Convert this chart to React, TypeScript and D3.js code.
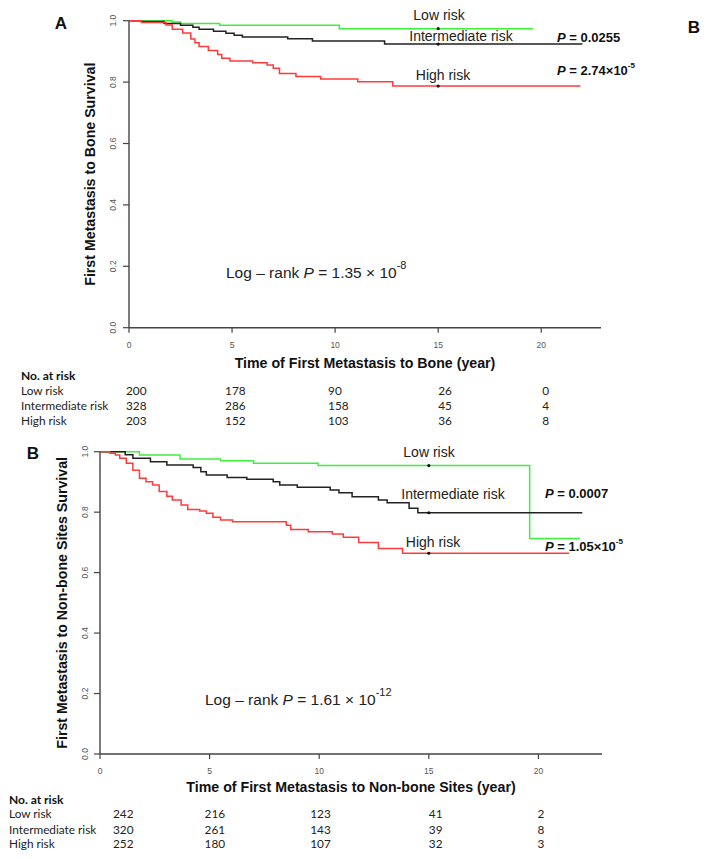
import React from 'react';
import * as d3 from 'd3';

// ---------- data ----------
const timeTicks = [0, 5, 10, 15, 20];
const survTicks = [0, 0.2, 0.4, 0.6, 0.8, 1.0];
const riskGroups = ['Low risk', 'Intermediate risk', 'High risk'];
const censorTime = 15;

// Panel A: first metastasis to bone  [time (years), survival]
const boneLow: [number, number][] = [
  [0, 1], [2.1, 0.996], [2.5, 0.991], [4.4, 0.985], [10.2, 0.974], [19.6, 0.974],
];
const boneInt: [number, number][] = [
  [0, 1], [0.6, 0.997], [1.7, 0.991], [2.5, 0.985], [3.1, 0.979], [3.4, 0.972], [4.1, 0.966],
  [4.7, 0.959], [5.1, 0.953], [5.5, 0.947], [7.7, 0.941], [8.9, 0.934], [12.4, 0.924], [22.0, 0.924],
];
const boneHigh: [number, number][] = [
  [0, 1], [0.6, 0.994], [1.8, 0.986], [2.1, 0.972], [2.6, 0.96], [3.0, 0.94], [3.2, 0.928],
  [3.4, 0.916], [3.85, 0.903], [4.3, 0.89], [4.5, 0.878], [4.9, 0.869], [6.0, 0.863], [6.7, 0.856],
  [7.0, 0.845], [7.3, 0.828], [8.1, 0.818], [9.3, 0.81], [11.1, 0.801], [12.8, 0.787], [21.9, 0.787],
];
const boneAtRisk = [
  [200, 178, 90, 26, 0],
  [328, 286, 158, 45, 4],
  [203, 152, 103, 36, 8],
];
const bonePValues = ['0.0255', '2.74×10'];
const bonePExp = ['', '-5'];
const boneLogRank = { mant: '1.35', exp: '-8' };

// Panel B: first metastasis to non-bone sites
const nbLow: [number, number][] = [
  [0, 1], [1.8, 0.989], [3.65, 0.976], [5.5, 0.97], [7.0, 0.962], [9.95, 0.954], [19.6, 0.713], [21.9, 0.713],
];
const nbInt: [number, number][] = [
  [0, 1], [1.15, 0.99], [1.5, 0.978], [2.3, 0.967], [3.05, 0.956], [4.25, 0.948], [4.6, 0.934],
  [4.85, 0.923], [5.8, 0.915], [6.7, 0.909], [7.9, 0.901], [8.2, 0.89], [9.0, 0.882], [10.5, 0.873],
  [10.9, 0.864], [11.5, 0.851], [12.7, 0.84], [13.1, 0.831], [14.1, 0.813], [14.5, 0.798], [22.0, 0.798],
];
const nbHigh: [number, number][] = [
  [0, 1], [0.45, 0.995], [0.7, 0.989], [0.9, 0.978], [1.2, 0.962], [1.5, 0.939], [1.8, 0.912],
  [2.1, 0.901], [2.4, 0.89], [2.7, 0.868], [3.05, 0.853], [3.3, 0.84], [3.7, 0.824], [4.0, 0.809],
  [4.55, 0.804], [4.85, 0.796], [5.15, 0.783], [5.5, 0.774], [6.05, 0.768], [8.5, 0.757], [8.7, 0.743],
  [9.5, 0.735], [10.6, 0.728], [11.1, 0.717], [11.8, 0.70], [12.7, 0.68], [13.8, 0.664], [21.4, 0.664],
];
const nbAtRisk = [
  [242, 216, 123, 41, 2],
  [320, 261, 143, 39, 8],
  [252, 180, 107, 32, 3],
];
const nbPValues = ['0.0007', '1.05×10'];
const nbPExp = ['', '-5'];
const nbLogRank = { mant: '1.61', exp: '-12' };

// ---------- styling ----------
const COLORS = ['#3ef03e', '#222222', '#ff3a3a'];
const AXIS = '#444';
const FONT = '"Liberation Sans", Arial, sans-serif';
const TABLE_FONT = 'Lato, "Open Sans", sans-serif';

type PanelProps = {
  letter: string;
  letterPos: [number, number];
  xRange: [number, number];
  yRange: [number, number];
  curves: [number, number][][];
  yTitle: string;
  yTitleX: number;
  yTickX: number;
  xTickY: number;
  xTitle: string;
  xTitleY: number;
  groupLabelPos: [number, number][];
  pValues: string[];
  pExp: string[];
  pPos: [number, number][];
  logRank: { mant: string; exp: string };
  logRankPos: [number, number];
  atRisk: number[][];
  tableLabelX: number;
  tableColOffsets: number[];
  tableRowY: number[];
};

function Panel(p: PanelProps) {
  const x = d3.scaleLinear().domain([0, 22.9]).range(p.xRange);
  const y = d3.scaleLinear().domain([0, 1]).range(p.yRange);
  const line = d3
    .line<[number, number]>()
    .x((d) => x(d[0]))
    .y((d) => y(d[1]))
    .curve(d3.curveStepAfter);
  const survAt = (c: [number, number][], t: number) => {
    let s = 1;
    for (const [tt, ss] of c) if (tt <= t) s = ss;
    return s;
  };
  const x0 = p.xRange[0];
  return (
    <g>
      <text x={p.letterPos[0]} y={p.letterPos[1]} fontFamily={FONT} fontWeight="bold" fontSize={17}
        textAnchor="middle" dominantBaseline="central" fill="#111">{p.letter}</text>
      {/* axes */}
      <line x1={x0} x2={p.xRange[1]} y1={y(0)} y2={y(0)} stroke={AXIS} strokeWidth={1.4} />
      <line x1={x0} x2={x0} y1={y(0)} y2={y(1)} stroke={AXIS} strokeWidth={1.4} />
      {timeTicks.map((t) => (
        <g key={'xt' + t}>
          <line x1={x(t)} x2={x(t)} y1={y(0)} y2={y(0) + 5} stroke={AXIS} strokeWidth={1.2} />
          <text x={x(t)} y={p.xTickY} fontFamily={FONT} fontSize={8.5} fill="#555"
            textAnchor="middle" dominantBaseline="central">{t}</text>
        </g>
      ))}
      {survTicks.map((s) => (
        <g key={'yt' + s}>
          <line x1={x0 - 6} x2={x0} y1={y(s)} y2={y(s)} stroke={AXIS} strokeWidth={1.2} />
          <text transform={`translate(${p.yTickX},${y(s)}) rotate(-90)`} fontFamily={FONT} fontSize={8.5}
            fill="#555" textAnchor="middle" dominantBaseline="central">{s.toFixed(1)}</text>
        </g>
      ))}
      <text transform={`translate(${p.yTitleX},${(y(0) + y(1)) / 2}) rotate(-90)`} fontFamily={FONT}
        fontWeight="bold" fontSize={14.2} fill="#111" textAnchor="middle" dominantBaseline="central">{p.yTitle}</text>
      <text x={(x(0) + x(22.9)) / 2} y={p.xTitleY} fontFamily={FONT} fontWeight="bold" fontSize={14.2}
        fill="#111" textAnchor="middle" dominantBaseline="central">{p.xTitle}</text>
      {/* curves */}
      {p.curves.map((c, i) => (
        <path key={'c' + i} d={line(c) || ''} fill="none" stroke={COLORS[i]} strokeWidth={1.5} />
      ))}
      {p.curves.map((c, i) => (
        <circle key={'cs' + i} cx={x(censorTime)} cy={y(survAt(c, censorTime))} r={1.6} fill="#111" />
      ))}
      {riskGroups.map((g, i) => (
        <text key={'gl' + i} x={p.groupLabelPos[i][0]} y={p.groupLabelPos[i][1]} fontFamily={FONT}
          fontSize={14} fill="#222" textAnchor="middle" dominantBaseline="central">{g}</text>
      ))}
      {p.pValues.map((v, i) => (
        <text key={'pv' + i} x={p.pPos[i][0]} y={p.pPos[i][1]} fontFamily={FONT} fontWeight="bold"
          fontSize={13} fill="#111" dominantBaseline="central">
          <tspan fontStyle="italic">P</tspan>
          <tspan>{' = ' + v}</tspan>
          {p.pExp[i] ? <tspan dy={-5} fontSize={8}>{p.pExp[i]}</tspan> : null}
        </text>
      ))}
      <text x={p.logRankPos[0]} y={p.logRankPos[1]} fontFamily={FONT} fontSize={15.5} fill="#222"
        dominantBaseline="central">
        <tspan>{'Log – rank '}</tspan>
        <tspan fontStyle="italic">P</tspan>
        <tspan>{' = ' + p.logRank.mant + ' × 10'}</tspan>
        <tspan dy={-7} fontSize={11}>{p.logRank.exp}</tspan>
      </text>
      {/* number at risk table */}
      <text x={p.tableLabelX} y={p.tableRowY[0]} fontFamily={TABLE_FONT} fontWeight="bold" fontSize={12}
        fill="#111" dominantBaseline="central">No. at risk</text>
      {riskGroups.map((g, i) => (
        <g key={'tr' + i}>
          <text x={p.tableLabelX} y={p.tableRowY[i + 1]} fontFamily={TABLE_FONT} fontSize={11.8} fill="#222"
            dominantBaseline="central">{g}</text>
          {p.atRisk[i].map((n, j) => (
            <text key={j} x={x(timeTicks[j]) + p.tableColOffsets[j]} y={p.tableRowY[i + 1]}
              fontFamily={TABLE_FONT} fontSize={11.8} fill="#222" dominantBaseline="central">{n}</text>
          ))}
        </g>
      ))}
    </g>
  );
}

export default function App() {
  return (
    <svg width={710} height={859} style={{ position: 'absolute', left: 0, top: 0, background: '#fff' }}>
      <rect x={0} y={0} width={710} height={859} fill="#fff" />
      <text x={694} y={27} fontFamily={FONT} fontWeight="bold" fontSize={17} fill="#111"
        textAnchor="middle" dominantBaseline="central">B</text>
      <Panel
        letter="A"
        letterPos={[61, 23]}
        xRange={[129, 601]}
        yRange={[327.7, 20.7]}
        curves={[boneLow, boneInt, boneHigh]}
        yTitle="First Metastasis to Bone Survival"
        yTitleX={90}
        yTickX={113}
        xTickY={344.5}
        xTitle="Time of First Metastasis to Bone (year)"
        xTitleY={363}
        groupLabelPos={[[439, 15], [461, 36], [443, 75]]}
        pValues={bonePValues}
        pExp={bonePExp}
        pPos={[[557, 37], [557, 70]]}
        logRank={boneLogRank}
        logRankPos={[226, 272]}
        atRisk={boneAtRisk}
        tableLabelX={21}
        tableColOffsets={[-3, -7, -7, 0, 1]}
        tableRowY={[375, 390, 405, 420]}
      />
      <Panel
        letter="B"
        letterPos={[33, 453]}
        xRange={[100, 602]}
        yRange={[754, 451.7]}
        curves={[nbLow, nbInt, nbHigh]}
        yTitle="First Metastasis to Non-bone Sites Survival"
        yTitleX={62}
        yTickX={85}
        xTickY={771}
        xTitle="Time of First Metastasis to Non-bone Sites (year)"
        xTitleY={787}
        groupLabelPos={[[429, 452], [453, 494], [433, 542]]}
        pValues={nbPValues}
        pExp={nbPExp}
        pPos={[[545, 493], [545, 546]]}
        logRank={nbLogRank}
        logRankPos={[205, 699]}
        atRisk={nbAtRisk}
        tableLabelX={9}
        tableColOffsets={[13, -5, -9, 0, -1]}
        tableRowY={[799, 813, 829, 843]}
      />
    </svg>
  );
}
